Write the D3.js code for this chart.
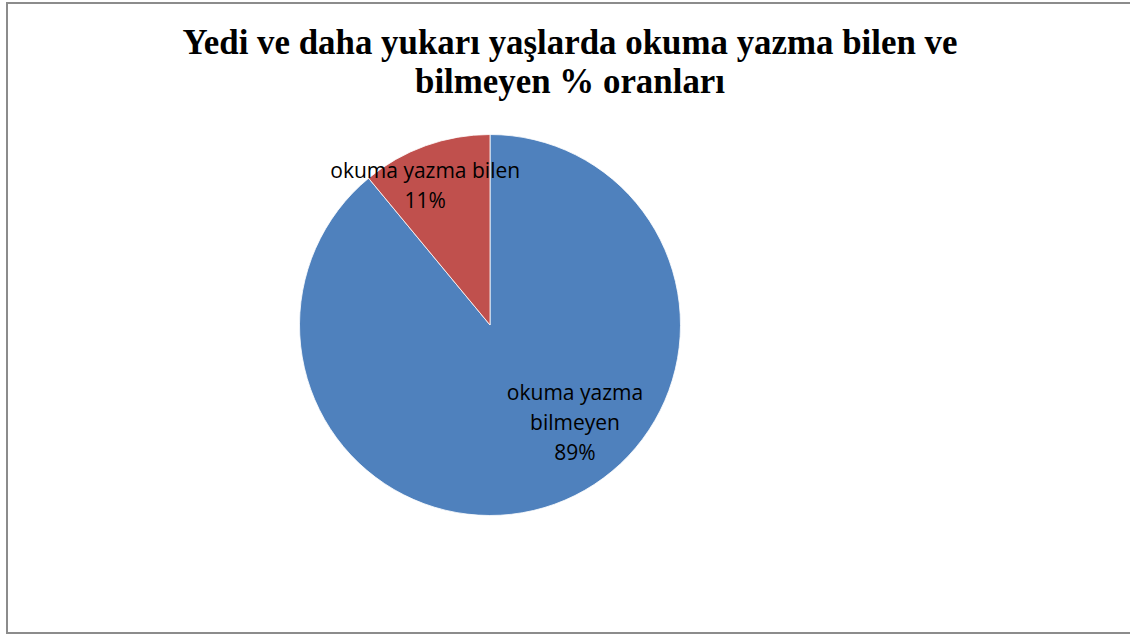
<!DOCTYPE html>
<html>
<head>
<meta charset="utf-8">
<script src="https://cdn.jsdelivr.net/npm/d3@7"></script>
<style>
  html, body { margin: 0; padding: 0; background: #fff; }
  svg { display: block; }
</style>
</head>
<body>
<svg id="chart" width="1130" height="634"></svg>
<script>
// Chart content
const titleLines = ["Yedi ve daha yukarı yaşlarda okuma yazma bilen ve", "bilmeyen % oranları"];
const categories = ["okuma yazma bilmeyen", "okuma yazma bilen"];
const values = [89, 11];
const labelLines = [["okuma yazma", "bilmeyen", "89%"], ["okuma yazma bilen", "11%"]];
const colors = ["#4F81BD", "#C0504D"];

const svg = d3.select("#chart");
const W = 1130, H = 634;

// Outer chart frame
svg.append("rect")
  .attr("x", 7).attr("y", 3)
  .attr("width", W + 10).attr("height", 630)
  .attr("fill", "#fff")
  .attr("stroke", "#8c8c8c")
  .attr("stroke-width", 2);

// Title
const title = svg.append("g");
const titleBase = [54, 93];
const titleWidth = [775, 310];
titleLines.forEach((t, i) => {
  title.append("text")
    .attr("x", 570).attr("y", titleBase[i])
    .attr("text-anchor", "middle")
    .attr("font-family", "'Liberation Serif', 'Times New Roman', serif")
    .attr("font-weight", "bold")
    .attr("font-size", 35)
    .attr("textLength", titleWidth[i])
    .attr("lengthAdjust", "spacingAndGlyphs")
    .attr("fill", "#000")
    .text(t);
});

// Pie
const cx = 490, cy = 325, R = 190.5;
const pie = d3.pie().sort(null).value(d => d)(values);
const arc = d3.arc().innerRadius(0).outerRadius(R);
const g = svg.append("g").attr("transform", `translate(${cx},${cy})`);
g.selectAll("path").data(pie).join("path")
  .attr("d", arc)
  .attr("fill", (d, i) => colors[i])
  .attr("stroke", "#fff")
  .attr("stroke-width", 0.8);

// Data labels ("best fit" placement: polar position of each label block)
const labelPolar = [{ angle: 139, r: 0.68 }, { angle: -25, r: 0.805 }];
const lineH = 30;
pie.forEach((d, i) => {
  const a = labelPolar[i].angle * Math.PI / 180;
  const r = R * labelPolar[i].r;
  const lx = Math.sin(a) * r;
  const ly = -Math.cos(a) * r;
  const lines = labelLines[i];
  const t = g.append("text")
    .attr("text-anchor", "middle")
    .attr("font-family", "'Open Sans', 'Noto Sans', sans-serif")
    .attr("font-size", 21)
    .attr("fill", "#000");
  lines.forEach((s, k) => {
    t.append("tspan")
      .attr("x", lx)
      .attr("y", ly + (k - (lines.length - 1) / 2) * lineH + 7)
      .text(s);
  });
});
</script>
</body>
</html>
